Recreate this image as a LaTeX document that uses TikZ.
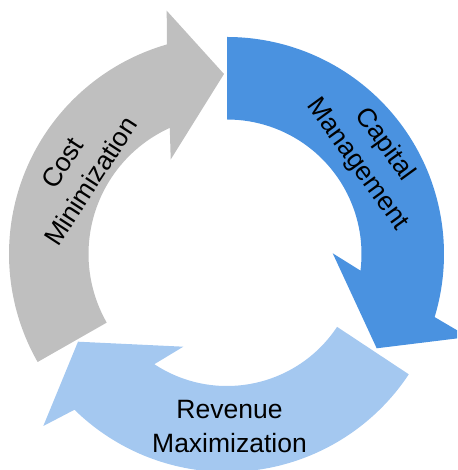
\documentclass[tikz,border=0pt]{standalone}
\usepackage{fontspec}
\setmainfont{Liberation Sans}
\usetikzlibrary{calc}
\definecolor{costgray}{HTML}{BFBFBF}
\definecolor{capblue}{HTML}{4A92E0}
\definecolor{revblue}{HTML}{A4C8F0}
\begin{document}
\begin{tikzpicture}[x=1pt,y=1pt,
  label/.style={align=center,text=black,inner sep=0pt,
    font=\fontsize{26.5}{34}\selectfont}]
\useasboundingbox (0,0) rectangle (457,470);
\clip (0,0) rectangle (457,470);
\coordinate (C) at (227,216);

% Cost Minimization: left arc, head pointing right at the top
\fill[costgray] ($(C)+(209.7:218)$) arc[start angle=209.7,end angle=106,radius=218]
  -- (166.7,459.3) -- (224,396) -- (170.7,310.5)
  -- ($(C)+(114.4:138.5)$) arc[start angle=114.4,end angle=209.7,radius=138.5] -- cycle;

% Capital Management: right arc, head pointing down-left
\fill[capblue] ($(C)+(90:217)$) arc[start angle=90,end angle=-16.9,radius=217]
  -- (468.5,133) -- (376.7,121.7) -- (332.7,216.7)
  -- ($(C)+(-7.1:134.5)$) arc[start angle=-7.1,end angle=90,radius=134.5] -- cycle;

% Revenue Maximization: bottom arc, head pointing up-left
\fill[revblue] ($(C)+(-33.5:218)$) arc[start angle=-33.5,end angle=-134.4,radius=218]
  -- (43.3,44) -- (78,128.3) -- (183.3,123.3)
  -- ($(C)+(-123.4:132)$) arc[start angle=-123.4,end angle=-33.5,radius=132] -- cycle;

\node[label,rotate=57] (cost) at (76.5,298) {Cost\\Minimization};
\node[label,rotate=-54] (capital) at (371,315.5) {Capital\\Management};
\node[label] (revenue) at (229.5,43) {Revenue\\Maximization};
\end{tikzpicture}
\end{document}
